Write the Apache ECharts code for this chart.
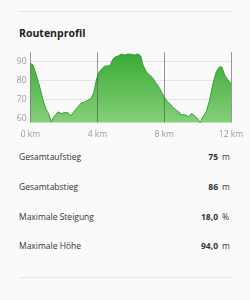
<!DOCTYPE html>
<html>
<head>
<meta charset="utf-8">
<script src="https://cdn.jsdelivr.net/npm/echarts@6/dist/echarts.min.js"></script>
<style>
  html, body { margin: 0; padding: 0; background: #fafafa; }
  body { width: 250px; height: 300px; position: relative; overflow: hidden; font-family: "Open Sans", "Noto Sans", sans-serif; }
  .sep { position: absolute; left: 19px; width: 213px; height: 1px; background: #e6e6e6; }
  #title { position: absolute; left: 19px; top: 26px; font-size: 10.5px; font-weight: bold; color: #222; }
  #chart { position: absolute; left: 0; top: 0; width: 250px; height: 145px; }
  .row { position: absolute; left: 19px; width: 213px; font-size: 8.5px; color: #333; }
  .row .val { position: absolute; right: 14px; top: 0; font-weight: bold; }
  .row .unit { position: absolute; left: 203px; top: 0; }
</style>
</head>
<body>
<div class="sep" style="top:11px"></div>
<div id="title">Routenprofil</div>
<div id="chart"></div>
<div id="stats"></div>
<div class="sep" style="top:277px"></div>
<script>
// elevation profile (km, m)
var distKm = [0, 0.15, 0.35, 0.55, 0.75, 0.95, 1.09, 1.24, 1.41, 1.65, 1.84, 2.05, 2.24, 2.41, 2.6, 2.84,
  3.04, 3.24, 3.44, 3.64, 3.8, 3.94, 4.08, 4.24, 4.44, 4.64, 4.78, 4.9, 5.04, 5.24, 5.43, 5.64, 5.83,
  6.03, 6.24, 6.43, 6.6, 6.73, 6.93, 7.13, 7.33, 7.53, 7.73, 7.93, 8.13, 8.33, 8.53, 8.73, 8.93,
  8.99, 9.13, 9.32, 9.47, 9.62, 9.78, 9.98, 10.16, 10.32, 10.52, 10.72, 10.92, 11.12, 11.32, 11.46,
  11.62, 11.82, 12];
var elevation = [89, 88.2, 82.9, 76.7, 69.7, 64.5, 62.7, 58.3, 61, 63.6, 62.7, 63.2, 63.1, 61.5, 63.6, 66.2,
  68.3, 68.8, 69.7, 70.9, 74.1, 80.3, 84.1, 85.9, 87.6, 87.6, 88.2, 90.8, 92.2, 92.9, 93.9, 93.4, 93.9,
  93.8, 93.4, 94, 92.9, 88.2, 84.6, 82.9, 81.2, 78.5, 75.9, 72.4, 69.7, 68, 65.9, 64.5, 63.1,
  61.8, 62.2, 61.8, 61, 62.7, 61.8, 60.1, 58, 61, 63.6, 69.7, 78.5, 84.6, 87.3, 87,
  82.9, 80.3, 78.5];

var statLabels = ['Gesamtaufstieg', 'Gesamtabstieg', 'Maximale Steigung', 'Maximale Höhe'];
var statValues = ['75', '86', '18,0', '94,0'];
var statUnits = ['m', 'm', '%', 'm'];

// stats rows
var stats = document.getElementById('stats');
for (var i = 0; i < statLabels.length; i++) {
  var row = document.createElement('div');
  row.className = 'row';
  row.style.top = (151 + i * 29.8) + 'px';
  row.innerHTML = statLabels[i] + '<span class="val">' + statValues[i] + '</span><span class="unit">' + statUnits[i] + '</span>';
  stats.appendChild(row);
}

var points = distKm.map(function (d, i) { return [d, elevation[i]]; });

var myChart = echarts.init(document.getElementById('chart'));
myChart.setOption({
  animation: false,
  grid: { left: 30.5, right: 19, top: 52, bottom: 22.5 },
  xAxis: {
    type: 'value',
    min: 0, max: 12, interval: 4,
    z: 5,
    axisLine: { show: false },
    axisTick: { show: false },
    axisLabel: {
      color: '#9a9a9a', fontSize: 8.5, margin: 8,
      fontFamily: 'Open Sans',
      formatter: function (v) { return v + ' km'; }
    },
    splitLine: { show: true, lineStyle: { color: 'rgba(70,70,70,0.55)', width: 1 } }
  },
  yAxis: {
    type: 'value',
    min: 58, max: 95,
    minInterval: 10, maxInterval: 10,
    axisLine: { show: false },
    axisTick: { show: false },
    axisLabel: {
      color: '#9a9a9a', fontSize: 8.5, margin: 4,
      fontFamily: 'Open Sans',
      showMinLabel: false, showMaxLabel: false
    },
    splitLine: { show: true, showMinLine: false, showMaxLine: false, lineStyle: { color: '#e4e4e4', width: 1 } }
  },
  series: [{
    type: 'line',
    data: points,
    showSymbol: false,
    lineStyle: { color: '#35a02f', width: 1 },
    areaStyle: {
      origin: 'start',
      opacity: 1,
      color: new echarts.graphic.LinearGradient(0, 0, 0, 1, [
        { offset: 0, color: '#3aaa34' },
        { offset: 1, color: '#86cf7b' }
      ])
    }
  }]
});
</script>
</body>
</html>
